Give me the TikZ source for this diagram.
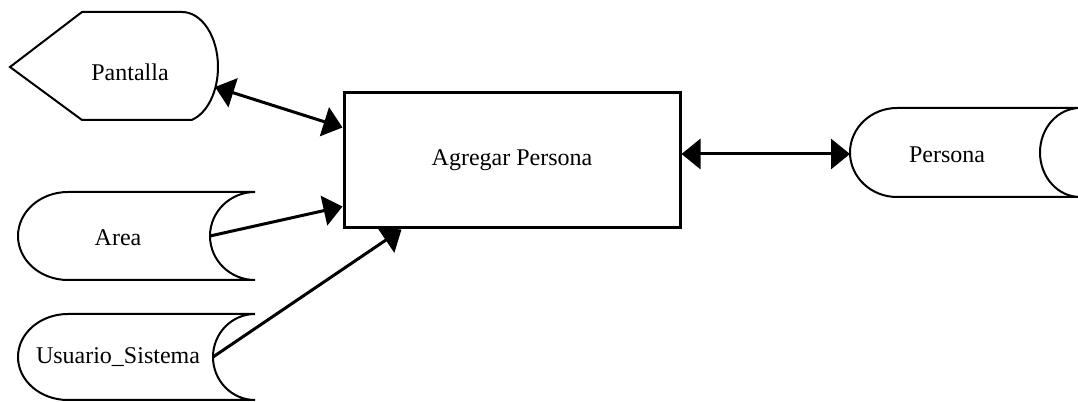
\documentclass[tikz,border=0pt]{standalone}
\usepackage{fontspec}
\setmainfont{Liberation Serif}
\usetikzlibrary{arrows.meta}

\begin{document}
\begin{tikzpicture}[
x=0.5pt,y=0.5pt,
font=\fontsize{12}{14}\selectfont,
proc/.style={
    rectangle,minimum width=168pt,minimum height=67.5pt,line width=1.5pt,draw=black
},
outline/.style={line width=1pt,draw=black},
lbl/.style={inner sep=1pt},
link/.style={line width=1.5pt,-{Triangle[length=9.5pt,width=15pt]}},
dlink/.style={line width=1.5pt,{Triangle[length=9.5pt,width=15pt]}-{Triangle[length=9.5pt,width=15pt]}}
]
    \useasboundingbox (0,0) rectangle (1078,402);

    % Pantalla
    \draw[outline] (82,390) -- (182,390) arc[start angle=90,end angle=-74,x radius=36,y radius=55] -- (82,282) -- (10,335) -- cycle;
    \node(pantalla)[lbl] at (130,330){Pantalla};
    \coordinate(pantallaE) at (215,315);

    % Area
    \draw[outline] (255,210) -- (68,210) arc[start angle=90,end angle=270,x radius=50,y radius=44] -- (255,122) arc[start angle=-90,end angle=-270,x radius=45,y radius=44];
    \node(area)[lbl] at (118,164){Area};
    \coordinate(areaE) at (210,166);

    % Usuario_Sistema
    \draw[outline] (255,88) -- (68,88) arc[start angle=90,end angle=270,x radius=50,y radius=43] -- (255,2) arc[start angle=-90,end angle=-270,x radius=42,y radius=43];
    \node(usuario)[lbl] at (118,45){Usuario\_Sistema};
    \coordinate(usuarioE) at (213,45);

    % Persona
    \draw[outline] (1085,294) -- (897,294) arc[start angle=90,end angle=270,x radius=47,y radius=44.5] -- (1085,205);
    \draw[outline] (1080,294) arc[start angle=90,end angle=270,x radius=40,y radius=44.5];
    \node(persona)[lbl] at (947,247){Persona};
    \coordinate(personaW) at (850,248);

    \node(box)[proc] at (512,241.5){Agregar Persona};

    \draw[dlink] (pantallaE) -- ([yshift=16.5pt]box.west);
    \draw[link] (areaE) -- ([yshift=-23pt]box.west);
    \draw[link] (usuarioE) -- ([xshift=29.5pt]box.south west);
    \draw[dlink] (box.east |- personaW) -- (personaW);
\end{tikzpicture}
\end{document}
